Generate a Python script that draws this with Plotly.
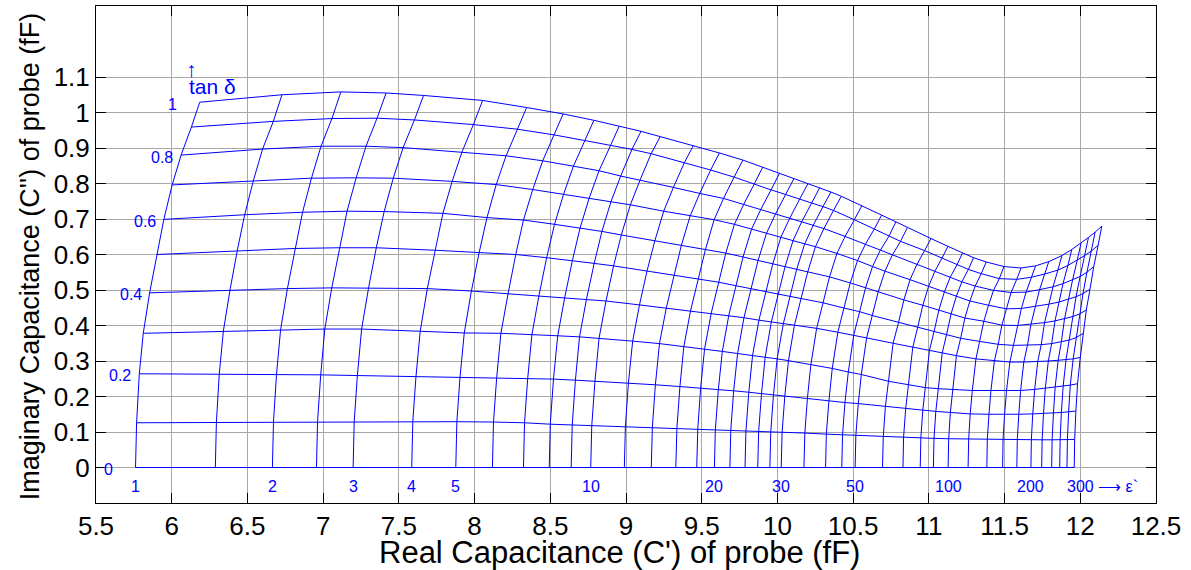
import plotly.graph_objects as go

# epsilon' values of the constant-permittivity lines
eps_values = [1, 1.5, 2, 2.5, 3, 4, 5, 6, 7, 8, 9, 10, 12, 14, 16, 18, 20, 22, 24, 26, 28, 30,
              35, 40, 45, 50, 60, 70, 80, 90, 100, 120, 140, 160, 180, 200, 220, 240, 260, 280, 300]
# tan(delta) values of the constant-loss curves
tan_values = [0.0, 0.1, 0.2, 0.3, 0.4, 0.5, 0.6, 0.7, 0.8, 0.9, 1.0]

# node positions (C', C'') along each tan(delta) curve, one entry per eps' value
x_tan00 = [5.761, 6.288, 6.665, 6.956, 7.198, 7.585, 7.876, 8.118, 8.323, 8.493, 8.638, 8.767, 8.989, 9.167, 9.329, 9.467, 9.584, 9.686, 9.786, 9.870, 9.950, 10.025, 10.175, 10.318, 10.425, 10.513, 10.694, 10.829, 10.943, 11.030, 11.127, 11.259, 11.383, 11.487, 11.581, 11.674, 11.745, 11.811, 11.864, 11.912, 11.960]
y_tan00 = [0.0, 0.0, 0.0, 0.0, 0.0, 0.0, 0.0, 0.0, 0.0, 0.0, 0.0, 0.0, 0.0, 0.0, 0.0, 0.0, 0.0, 0.0, 0.0, 0.0, 0.0, 0.0, 0.0, 0.0, 0.0, 0.0, 0.0, 0.0, 0.0, 0.0, 0.0, 0.0, 0.0, 0.0, 0.0, 0.0, 0.0, 0.0, 0.0, 0.0, 0.0]

x_tan01 = [5.768, 6.295, 6.672, 6.963, 7.205, 7.592, 7.883, 8.125, 8.330, 8.500, 8.645, 8.774, 8.996, 9.174, 9.336, 9.474, 9.590, 9.692, 9.792, 9.876, 9.956, 10.031, 10.181, 10.323, 10.430, 10.518, 10.699, 10.833, 10.947, 11.034, 11.131, 11.263, 11.386, 11.490, 11.584, 11.677, 11.748, 11.814, 11.867, 11.915, 11.963]
y_tan01 = [0.126, 0.127, 0.128, 0.129, 0.129, 0.129, 0.129, 0.128, 0.126, 0.122, 0.120, 0.118, 0.115, 0.113, 0.110, 0.108, 0.106, 0.105, 0.103, 0.102, 0.101, 0.100, 0.097, 0.094, 0.092, 0.091, 0.087, 0.085, 0.083, 0.082, 0.081, 0.080, 0.079, 0.078, 0.078, 0.078, 0.078, 0.078, 0.079, 0.079, 0.079]

x_tan02 = [5.786, 6.314, 6.692, 6.984, 7.226, 7.613, 7.904, 8.146, 8.351, 8.521, 8.666, 8.795, 9.016, 9.194, 9.356, 9.493, 9.610, 9.711, 9.811, 9.895, 9.974, 10.049, 10.198, 10.340, 10.446, 10.534, 10.713, 10.847, 10.960, 11.046, 11.142, 11.273, 11.397, 11.500, 11.594, 11.686, 11.757, 11.823, 11.875, 11.923, 11.971]
y_tan02 = [0.264, 0.263, 0.262, 0.261, 0.259, 0.256, 0.255, 0.253, 0.252, 0.249, 0.246, 0.243, 0.238, 0.233, 0.228, 0.224, 0.220, 0.216, 0.212, 0.208, 0.205, 0.202, 0.195, 0.188, 0.183, 0.180, 0.172, 0.166, 0.162, 0.158, 0.155, 0.151, 0.150, 0.149, 0.150, 0.151, 0.152, 0.154, 0.155, 0.157, 0.159]

x_tan03 = [5.812, 6.341, 6.719, 7.011, 7.254, 7.641, 7.932, 8.174, 8.379, 8.549, 8.693, 8.822, 9.044, 9.221, 9.382, 9.519, 9.636, 9.737, 9.836, 9.919, 9.998, 10.073, 10.221, 10.362, 10.468, 10.554, 10.732, 10.865, 10.976, 11.062, 11.157, 11.287, 11.410, 11.513, 11.606, 11.699, 11.769, 11.834, 11.887, 11.934, 11.982]
y_tan03 = [0.378, 0.384, 0.388, 0.390, 0.390, 0.384, 0.379, 0.378, 0.375, 0.371, 0.368, 0.364, 0.356, 0.349, 0.341, 0.334, 0.327, 0.321, 0.316, 0.311, 0.306, 0.301, 0.290, 0.279, 0.269, 0.262, 0.243, 0.233, 0.225, 0.222, 0.220, 0.217, 0.217, 0.217, 0.217, 0.220, 0.223, 0.226, 0.229, 0.232, 0.236]

x_tan04 = [5.854, 6.385, 6.764, 7.057, 7.300, 7.688, 7.979, 8.221, 8.425, 8.595, 8.739, 8.868, 9.089, 9.266, 9.426, 9.563, 9.679, 9.779, 9.878, 9.960, 10.039, 10.112, 10.259, 10.399, 10.504, 10.589, 10.764, 10.894, 11.004, 11.088, 11.182, 11.311, 11.433, 11.535, 11.627, 11.719, 11.789, 11.854, 11.906, 11.953, 12.000]
y_tan04 = [0.492, 0.500, 0.504, 0.506, 0.506, 0.504, 0.497, 0.489, 0.484, 0.478, 0.474, 0.469, 0.458, 0.449, 0.441, 0.435, 0.429, 0.422, 0.415, 0.410, 0.405, 0.400, 0.392, 0.381, 0.373, 0.365, 0.350, 0.339, 0.330, 0.322, 0.315, 0.306, 0.301, 0.297, 0.297, 0.298, 0.300, 0.302, 0.304, 0.306, 0.310]

x_tan05 = [5.901, 6.433, 6.814, 7.108, 7.351, 7.739, 8.030, 8.272, 8.476, 8.646, 8.790, 8.918, 9.139, 9.316, 9.475, 9.611, 9.726, 9.826, 9.923, 10.005, 10.083, 10.156, 10.301, 10.440, 10.543, 10.627, 10.800, 10.927, 11.035, 11.117, 11.210, 11.337, 11.458, 11.559, 11.651, 11.742, 11.811, 11.875, 11.927, 11.973, 12.020]
y_tan05 = [0.600, 0.611, 0.617, 0.619, 0.619, 0.612, 0.605, 0.600, 0.591, 0.583, 0.575, 0.568, 0.554, 0.542, 0.531, 0.522, 0.512, 0.503, 0.496, 0.488, 0.482, 0.476, 0.464, 0.449, 0.439, 0.428, 0.409, 0.396, 0.384, 0.375, 0.364, 0.355, 0.347, 0.344, 0.344, 0.346, 0.349, 0.354, 0.359, 0.366, 0.378]

x_tan06 = [5.948, 6.482, 6.864, 7.158, 7.403, 7.791, 8.082, 8.323, 8.528, 8.697, 8.841, 8.969, 9.190, 9.365, 9.524, 9.659, 9.773, 9.872, 9.969, 10.050, 10.127, 10.200, 10.344, 10.481, 10.582, 10.665, 10.835, 10.960, 11.066, 11.147, 11.238, 11.363, 11.482, 11.583, 11.674, 11.764, 11.833, 11.896, 11.948, 11.994, 12.040]
y_tan06 = [0.699, 0.712, 0.719, 0.722, 0.721, 0.716, 0.704, 0.697, 0.685, 0.675, 0.665, 0.655, 0.638, 0.625, 0.613, 0.604, 0.593, 0.583, 0.573, 0.565, 0.558, 0.551, 0.537, 0.520, 0.506, 0.494, 0.472, 0.457, 0.443, 0.433, 0.421, 0.412, 0.401, 0.400, 0.403, 0.408, 0.413, 0.419, 0.425, 0.432, 0.444]

x_tan07 = [6.003, 6.539, 6.923, 7.218, 7.463, 7.852, 8.143, 8.384, 8.588, 8.757, 8.901, 9.029, 9.249, 9.424, 9.582, 9.716, 9.829, 9.927, 10.023, 10.103, 10.180, 10.251, 10.393, 10.529, 10.628, 10.710, 10.876, 10.998, 11.102, 11.181, 11.271, 11.394, 11.512, 11.611, 11.701, 11.791, 11.858, 11.922, 11.972, 12.018, 12.064]
y_tan07 = [0.796, 0.808, 0.815, 0.816, 0.815, 0.806, 0.797, 0.783, 0.770, 0.759, 0.749, 0.740, 0.722, 0.709, 0.698, 0.685, 0.671, 0.659, 0.649, 0.639, 0.630, 0.622, 0.603, 0.583, 0.566, 0.553, 0.529, 0.510, 0.494, 0.482, 0.469, 0.457, 0.447, 0.448, 0.453, 0.460, 0.466, 0.474, 0.481, 0.490, 0.502]

x_tan08 = [6.062, 6.600, 6.986, 7.283, 7.528, 7.917, 8.208, 8.450, 8.653, 8.822, 8.965, 9.093, 9.313, 9.487, 9.644, 9.777, 9.889, 9.986, 10.081, 10.160, 10.236, 10.307, 10.447, 10.581, 10.678, 10.758, 10.921, 11.040, 11.141, 11.218, 11.306, 11.427, 11.543, 11.642, 11.731, 11.820, 11.886, 11.949, 11.999, 12.044, 12.089]
y_tan08 = [0.880, 0.897, 0.905, 0.905, 0.901, 0.889, 0.878, 0.864, 0.849, 0.836, 0.821, 0.810, 0.789, 0.772, 0.758, 0.741, 0.726, 0.713, 0.702, 0.692, 0.682, 0.673, 0.651, 0.629, 0.611, 0.598, 0.572, 0.553, 0.536, 0.523, 0.511, 0.499, 0.493, 0.494, 0.501, 0.509, 0.518, 0.528, 0.538, 0.550, 0.566]

x_tan09 = [6.130, 6.671, 7.058, 7.356, 7.603, 7.992, 8.283, 8.524, 8.728, 8.896, 9.039, 9.166, 9.386, 9.559, 9.714, 9.846, 9.958, 10.054, 10.148, 10.226, 10.301, 10.370, 10.508, 10.640, 10.736, 10.813, 10.972, 11.087, 11.186, 11.261, 11.346, 11.465, 11.580, 11.677, 11.765, 11.852, 11.918, 11.980, 12.029, 12.074, 12.118]
y_tan09 = [0.959, 0.975, 0.983, 0.984, 0.979, 0.966, 0.953, 0.937, 0.921, 0.908, 0.896, 0.884, 0.859, 0.838, 0.818, 0.798, 0.782, 0.769, 0.757, 0.745, 0.735, 0.724, 0.698, 0.672, 0.651, 0.637, 0.611, 0.590, 0.571, 0.558, 0.546, 0.532, 0.530, 0.536, 0.545, 0.556, 0.569, 0.584, 0.597, 0.610, 0.626]

x_tan10 = [6.185, 6.728, 7.117, 7.416, 7.663, 8.053, 8.344, 8.585, 8.788, 8.956, 9.099, 9.226, 9.445, 9.617, 9.772, 9.903, 10.014, 10.109, 10.202, 10.279, 10.353, 10.422, 10.558, 10.688, 10.782, 10.858, 11.014, 11.126, 11.222, 11.295, 11.379, 11.496, 11.609, 11.705, 11.792, 11.879, 11.944, 12.005, 12.054, 12.098, 12.142]
y_tan10 = [1.029, 1.050, 1.058, 1.055, 1.048, 1.034, 1.014, 0.996, 0.978, 0.962, 0.947, 0.932, 0.907, 0.886, 0.866, 0.846, 0.829, 0.814, 0.800, 0.788, 0.776, 0.764, 0.738, 0.711, 0.692, 0.676, 0.645, 0.623, 0.604, 0.591, 0.579, 0.566, 0.562, 0.568, 0.580, 0.597, 0.614, 0.632, 0.648, 0.663, 0.680]

# labels written on the chart
tan_label_values = [1.0, 0.8, 0.6, 0.4, 0.2, 0.0]
tan_label_texts = ["1", "0.8", "0.6", "0.4", "0.2", "0"]
eps_label_values = [1, 2, 3, 4, 5, 10, 20, 30, 50, 100, 200]
eps_label_texts = ["1", "2", "3", "4", "5", "10", "20", "30", "50", "100", "200"]
eps_end_text = "300 \u27f6 \u03b5`"
x_tick_values = [5.5, 6, 6.5, 7, 7.5, 8, 8.5, 9, 9.5, 10, 10.5, 11, 11.5, 12, 12.5]
x_tick_texts = ["5.5", "6", "6.5", "7", "7.5", "8", "8.5", "9", "9.5", "10", "10.5", "11", "11.5", "12", "12.5"]
y_tick_values = [0, 0.1, 0.2, 0.3, 0.4, 0.5, 0.6, 0.7, 0.8, 0.9, 1.0, 1.1]
y_tick_texts = ["0", "0.1", "0.2", "0.3", "0.4", "0.5", "0.6", "0.7", "0.8", "0.9", "1", "1.1"]
x_title = "Real Capacitance (C') of probe (fF)"
y_title = "Imaginary Capacitance (C'') of probe (fF)"

X_NODES = [x_tan00, x_tan01, x_tan02, x_tan03, x_tan04, x_tan05, x_tan06, x_tan07, x_tan08, x_tan09, x_tan10]
Y_NODES = [y_tan00, y_tan01, y_tan02, y_tan03, y_tan04, y_tan05, y_tan06, y_tan07, y_tan08, y_tan09, y_tan10]

BLUE = "#0000ff"
FONT = "Liberation Sans, Arial, Helvetica, sans-serif"

fig = go.Figure()

# constant tan(delta) curves
for k, t in enumerate(tan_values):
    fig.add_trace(go.Scatter(x=X_NODES[k], y=Y_NODES[k], mode="lines",
                             line=dict(color=BLUE, width=1), hoverinfo="skip",
                             showlegend=False, name=f"tan d = {t}"))

# constant eps' lines
for i, e in enumerate(eps_values):
    xs = [X_NODES[k][i] for k in range(len(tan_values))]
    ys = [Y_NODES[k][i] for k in range(len(tan_values))]
    fig.add_trace(go.Scatter(x=xs, y=ys, mode="lines",
                             line=dict(color=BLUE, width=1), hoverinfo="skip",
                             showlegend=False, name=f"eps = {e}"))

annotations = []
label_font = dict(family=FONT, size=16, color=BLUE)

# tan(delta) labels at the left ends of the curves
for val, txt in zip(tan_label_values, tan_label_texts):
    k = tan_values.index(val)
    shift = -21 if txt in ("1", "0") else -6
    annotations.append(dict(x=X_NODES[k][0], y=Y_NODES[k][0], xref="x", yref="y",
                            text=txt, showarrow=False, xanchor="right", yanchor="middle",
                            xshift=shift, yshift=-2, font=label_font))

# eps' labels below the tan(delta)=0 line
for val, txt in zip(eps_label_values, eps_label_texts):
    i = eps_values.index(val)
    annotations.append(dict(x=X_NODES[0][i], y=Y_NODES[0][i], xref="x", yref="y",
                            text=txt, showarrow=False, xanchor="center", yanchor="middle",
                            yshift=-19, font=label_font))
annotations.append(dict(x=X_NODES[0][-1], y=Y_NODES[0][-1], xref="x", yref="y",
                        text=eps_end_text, showarrow=False, xanchor="left", yanchor="middle",
                        xshift=-9, yshift=-19, font=label_font))

# "tan delta" marker near the top-left corner of the mesh
annotations.append(dict(x=X_NODES[10][0], y=Y_NODES[10][0], xref="x", yref="y",
                        text="tan \u03b4", showarrow=False, xanchor="left", yanchor="middle",
                        xshift=-13, yshift=16, font=dict(family=FONT, size=21, color=BLUE)))
annotations.append(dict(x=X_NODES[10][0], y=Y_NODES[10][0], xref="x", yref="y",
                        text="\u2191", showarrow=False, xanchor="center", yanchor="middle",
                        xshift=-8, yshift=33, font=dict(family=FONT, size=21, color=BLUE)))

# axis titles
annotations.append(dict(x=0.494, y=-0.099, xref="paper", yref="paper", text=x_title,
                        showarrow=False, xanchor="center", yanchor="middle",
                        font=dict(family=FONT, size=31, color="black")))
annotations.append(dict(x=-0.062, y=0.497, xref="paper", yref="paper", text=y_title,
                        showarrow=False, xanchor="center", yanchor="middle", textangle=-90,
                        font=dict(family=FONT, size=27, color="black")))

axis_common = dict(showgrid=True, gridcolor="#a8a8a8", gridwidth=1, zeroline=False,
                   showline=True, linecolor="black", linewidth=1, mirror="ticks",
                   ticks="inside", ticklen=10, tickcolor="black", tickwidth=1,
                   automargin=False,
                   tickfont=dict(family=FONT, size=26, color="black"))

fig.update_layout(
    width=1191, height=570,
    margin=dict(l=96, r=35, t=6, b=67),
    paper_bgcolor="white", plot_bgcolor="white",
    showlegend=False,
    annotations=annotations,
    xaxis=dict(range=[5.5, 12.5], tickvals=x_tick_values, ticktext=x_tick_texts, **axis_common),
    yaxis=dict(range=[-0.1, 1.3], tickvals=y_tick_values, ticktext=y_tick_texts, **axis_common),
)

fig.write_html("out.html", config={"displayModeBar": False},
               post_script="document.body.style.margin='0px';")
